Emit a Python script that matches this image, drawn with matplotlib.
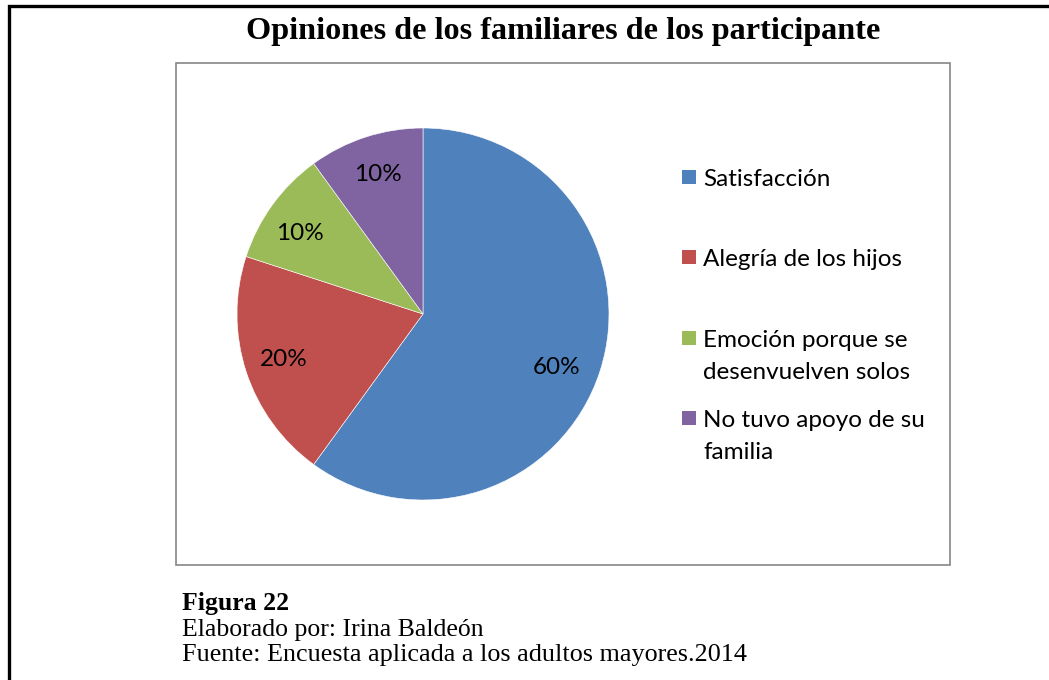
import matplotlib
matplotlib.use('Agg')
import matplotlib.pyplot as plt
import matplotlib.patches as patches

# data
categorias = ['Satisfacción', 'Alegría de los hijos',
              'Emoción porque se\ndesenvuelven solos',
              'No tuvo apoyo de su\nfamilia']
porcentajes = [60, 20, 10, 10]
colores = ['#4F81BD', '#C0504D', '#9BBB59', '#8064A2']

titulo = 'Opiniones de los familiares de los participante'
notas = ['Figura 22', 'Elaborado por: Irina Baldeón',
         'Fuente: Encuesta aplicada a los adultos mayores.2014']

W, H = 1049, 680
fig = plt.figure(figsize=(W / 100, H / 100), dpi=100)

# background axes in pixel coords (y down)
bg = fig.add_axes([0, 0, 1, 1])
bg.set_xlim(0, W)
bg.set_ylim(H, 0)
bg.axis('off')

# outer frame (only left and top visible)
bg.plot([9, 9, W], [H, 6, 6], color='black', lw=2.4, solid_joinstyle='miter')
# chart area frame
bg.add_patch(patches.Rectangle((176, 63), 774, 502, fill=False,
                               edgecolor='#868686', lw=1.2))

bg.text(563, 39, titulo, ha='center', va='baseline',
        family='Liberation Serif', fontweight='bold', fontsize=23.2)

# caption under the chart
bg.text(182, 610, notas[0], family='Liberation Serif', fontweight='bold',
        fontsize=18.5, va='baseline')
bg.text(182, 636, notas[1], family='Liberation Serif', fontsize=18.5,
        va='baseline')
bg.text(182, 661, notas[2], family='Liberation Serif', fontsize=18.8,
        va='baseline')

# pie
cx, cy, r = 423, 314, 186
ax = fig.add_axes([(cx - r) / W, 1 - (cy + r) / H, 2 * r / W, 2 * r / H])
wedges, _, autotexts = ax.pie(porcentajes, colors=colores, startangle=90,
                              counterclock=False, autopct='%d%%',
                              pctdistance=0.79,
                              wedgeprops=dict(edgecolor='white', linewidth=0.4))
for t in autotexts:
    t.set_family('Lato')
    t.set_fontsize(17.5)
    t.set_color('black')
# small nudges so labels sit where Excel put them
autotexts[0].set_position((0.72, -0.29))
autotexts[2].set_position((-0.66, 0.435))
ax.set_xlim(-1, 1)
ax.set_ylim(-1, 1)

# legend drawn by hand (marker aligned to the first line, like Excel)
leg_base = [186, 266, 347, 427]
line_gap = 32
for i, (lab, col) in enumerate(zip(categorias, colores)):
    y0 = leg_base[i]
    bg.add_patch(patches.Rectangle((682, y0 - 16), 14, 14, facecolor=col,
                                   edgecolor='none'))
    for k, linea in enumerate(lab.split('\n')):
        bg.text(703, y0 + k * line_gap, linea, family='Lato', fontsize=17.5,
                va='baseline')

fig.savefig('out.png', dpi=100)
